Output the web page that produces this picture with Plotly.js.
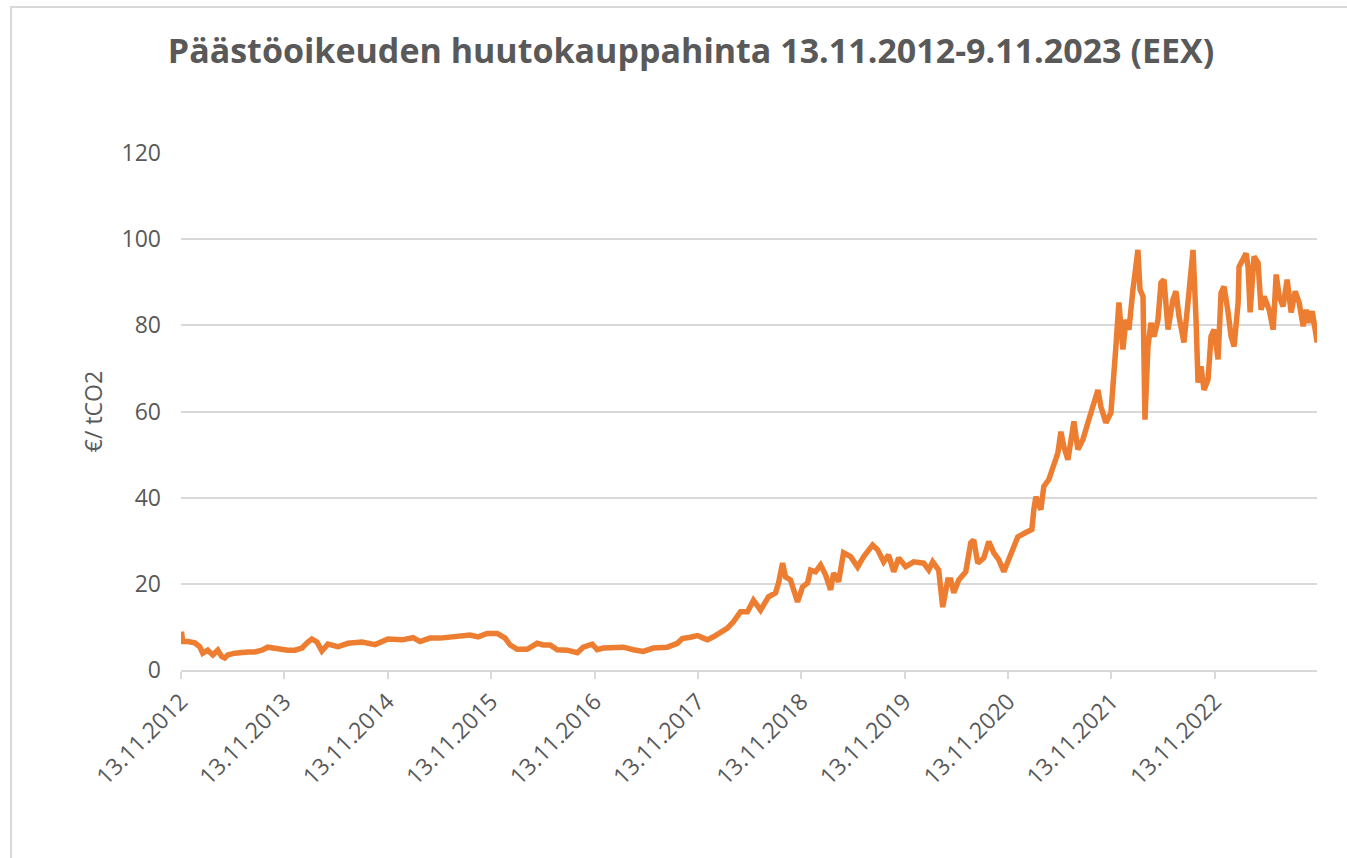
<!DOCTYPE html>
<html>
<head>
<meta charset="utf-8">
<script src="https://cdn.plot.ly/plotly-3.0.1.min.js"></script>
<style>
  html, body { margin: 0; padding: 0; background: #fff; }
  #chart { width: 1347px; height: 858px; }
  #frame { position: absolute; left: 10px; top: 6px; width: 1400px; height: 900px;
           border-left: 2px solid #d9d9d9; border-top: 2px solid #d9d9d9; pointer-events: none; }
</style>
</head>
<body>
<div id="chart"></div>
<div id="frame"></div>
<script>
// Time of each auction reading, in decimal years
const decimalYear = [
  2012.873, 2012.885, 2012.934, 2013.002, 2013.050, 2013.079, 2013.127, 2013.176, 2013.224, 2013.263,
  2013.292, 2013.321, 2013.389, 2013.457, 2013.515, 2013.583, 2013.650, 2013.708, 2013.776, 2013.844,
  2013.902, 2013.970, 2014.038, 2014.096, 2014.134, 2014.183, 2014.231, 2014.289, 2014.386, 2014.483,
  2014.619, 2014.745, 2014.870, 2015.006, 2015.113, 2015.180, 2015.277, 2015.374, 2015.471, 2015.568,
  2015.664, 2015.742, 2015.829, 2015.926, 2016.003, 2016.052, 2016.120, 2016.216, 2016.313, 2016.371,
  2016.439, 2016.507, 2016.604, 2016.701, 2016.759, 2016.846, 2016.894, 2016.952, 2017.049, 2017.146,
  2017.243, 2017.340, 2017.437, 2017.572, 2017.669, 2017.717, 2017.795, 2017.863, 2017.921, 2017.959,
  2018.018, 2018.085, 2018.153, 2018.211, 2018.279, 2018.347, 2018.405, 2018.473, 2018.550, 2018.618,
  2018.647, 2018.686, 2018.715, 2018.763, 2018.792, 2018.831, 2018.880, 2018.928, 2018.957, 2019.005,
  2019.054, 2019.102, 2019.151, 2019.180, 2019.228, 2019.276, 2019.344, 2019.412, 2019.470, 2019.557,
  2019.606, 2019.664, 2019.712, 2019.761, 2019.809, 2019.877, 2019.954, 2020.051, 2020.100, 2020.138,
  2020.196, 2020.235, 2020.284, 2020.313, 2020.342, 2020.390, 2020.458, 2020.506, 2020.535, 2020.574,
  2020.632, 2020.681, 2020.729, 2020.777, 2020.826, 2020.894, 2020.961, 2021.039, 2021.097, 2021.116,
  2021.136, 2021.184, 2021.213, 2021.261, 2021.310, 2021.349, 2021.378, 2021.407, 2021.446, 2021.475,
  2021.504, 2021.542, 2021.591, 2021.639, 2021.668, 2021.697, 2021.736, 2021.765, 2021.813, 2021.862,
  2021.881, 2021.910, 2021.939, 2021.978, 2022.007, 2022.036, 2022.075, 2022.094, 2022.123, 2022.143,
  2022.172, 2022.191, 2022.220, 2022.249, 2022.278, 2022.317, 2022.346, 2022.375, 2022.414, 2022.462,
  2022.491, 2022.520, 2022.568, 2022.607, 2022.636, 2022.656, 2022.685, 2022.704, 2022.733, 2022.762,
  2022.801, 2022.830, 2022.859, 2022.898, 2022.927, 2022.956, 2022.995, 2023.024, 2023.053, 2023.092,
  2023.101, 2023.140, 2023.169, 2023.188, 2023.208, 2023.246, 2023.285, 2023.314, 2023.343, 2023.392,
  2023.431, 2023.460, 2023.489, 2023.527, 2023.566, 2023.605, 2023.644, 2023.682, 2023.721, 2023.750,
  2023.779, 2023.808, 2023.828, 2023.857
];
// Auction price, EUR per tonne CO2
const price = [
  8.9, 6.6, 6.6, 6.3, 5.4, 3.9, 4.6, 3.5, 4.6, 3.1,
  2.8, 3.5, 3.9, 4.2, 4.2, 4.2, 4.6, 5.3, 5.1, 4.6,
  4.6, 4.6, 5.1, 6.5, 7.2, 6.5, 4.4, 6.0, 5.4, 6.2,
  6.5, 5.9, 7.2, 7.0, 7.5, 6.6, 7.4, 7.4, 7.7, 8.1,
  8.1, 7.7, 8.5, 8.5, 7.4, 5.8, 4.8, 4.8, 6.2, 5.8,
  5.8, 4.7, 4.6, 4.0, 5.3, 6.0, 4.7, 5.1, 5.1, 5.3,
  4.7, 4.3, 5.1, 5.3, 6.2, 7.3, 7.6, 8.0, 7.4, 7.0,
  7.7, 8.8, 9.7, 11.2, 13.5, 13.5, 16.2, 13.9, 17.0, 17.9,
  20.2, 24.8, 21.6, 20.9, 18.6, 15.8, 19.3, 20.2, 23.2, 22.8,
  24.4, 22.1, 18.6, 22.5, 20.5, 27.2, 26.3, 23.9, 26.3, 29.0,
  27.9, 25.1, 26.7, 22.8, 26.0, 24.0, 25.1, 24.8, 23.2, 25.1,
  23.2, 14.6, 20.9, 20.9, 17.9, 20.9, 22.8, 29.5, 30.2, 24.8,
  26.0, 29.8, 27.2, 25.6, 22.8, 27.2, 30.9, 31.9, 32.6, 37.2,
  40.2, 37.2, 42.6, 44.2, 47.2, 50.4, 55.3, 51.8, 48.8, 53.5,
  57.7, 51.2, 53.5, 57.4, 59.7, 62.7, 65.0, 61.1, 57.4, 59.7,
  67.4, 75.1, 85.3, 74.4, 81.3, 79.0, 88.3, 92.3, 97.5, 88.3,
  86.7, 58.1, 75.1, 80.6, 77.4, 81.3, 89.9, 90.6, 79.0, 86.0,
  87.9, 82.1, 76.0, 85.3, 92.3, 97.5, 81.3, 66.7, 70.5, 65.0,
  67.4, 77.4, 79.0, 72.1, 87.6, 89.0, 83.0, 77.4, 75.1, 85.3,
  93.6, 95.2, 96.7, 93.6, 83.0, 96.0, 94.5, 83.6, 86.7, 83.6,
  79.0, 91.8, 86.7, 84.4, 90.6, 83.0, 87.9, 85.3, 79.8, 83.6,
  80.6, 83.3, 79.8, 76.0
];
const tickLabels = ["13.11.2012","13.11.2013","13.11.2014","13.11.2015","13.11.2016","13.11.2017",
                    "13.11.2018","13.11.2019","13.11.2020","13.11.2021","13.11.2022"];
const yTicks = [0, 20, 40, 60, 80, 100, 120];
const titleText = "Päästöoikeuden huutokauppahinta 13.11.2012-9.11.2023 (EEX)";
const yTitle = "€/ tCO2";

const tickVals = tickLabels.map(s => {
  const p = s.split(".");
  const d = new Date(Date.UTC(+p[2], +p[1] - 1, +p[0]));
  const start = Date.UTC(+p[2], 0, 1);
  return +p[2] + (d - start) / (365 * 86400000);
});
const xEnd = 2023 + (Date.UTC(2023, 10, 9) - Date.UTC(2023, 0, 1)) / (365 * 86400000);

const font = "Open Sans, sans-serif";
const grey = "#595959";

Plotly.newPlot("chart", [{
  x: decimalYear, y: price, type: "scatter", mode: "lines",
  line: { color: "#ED7D31", width: 5.5 }, hoverinfo: "x+y"
}], {
  width: 1347, height: 858,
  margin: { l: 181, r: 30, t: 153, b: 188 },
  paper_bgcolor: "#fff", plot_bgcolor: "#fff",
  showlegend: false,
  title: { text: "<b>" + titleText + "</b>", x: 0.513, xanchor: "center", y: 0.94, yanchor: "middle",
           font: { family: font, size: 34, color: grey } },
  xaxis: {
    range: [tickVals[0], xEnd], tickvals: tickVals, ticktext: tickLabels, tickangle: -45,
    showgrid: false, zeroline: false, showline: true, linecolor: "#d9d9d9", linewidth: 2,
    ticks: "outside", ticklen: 7, tickcolor: "#d9d9d9", tickwidth: 2,
    tickfont: { family: font, size: 23, color: grey }
  },
  yaxis: {
    range: [0, 120], tickvals: yTicks, showgrid: true, gridcolor: "#d9d9d9", gridwidth: 2,
    zeroline: false, showline: false, ticks: "", ticklabelstandoff: 19,
    tickfont: { family: font, size: 23, color: grey },
    title: { text: yTitle, standoff: 12, font: { family: font, size: 23, color: grey } }
  }
}, { displayModeBar: false, staticPlot: true });
</script>
</body>
</html>
